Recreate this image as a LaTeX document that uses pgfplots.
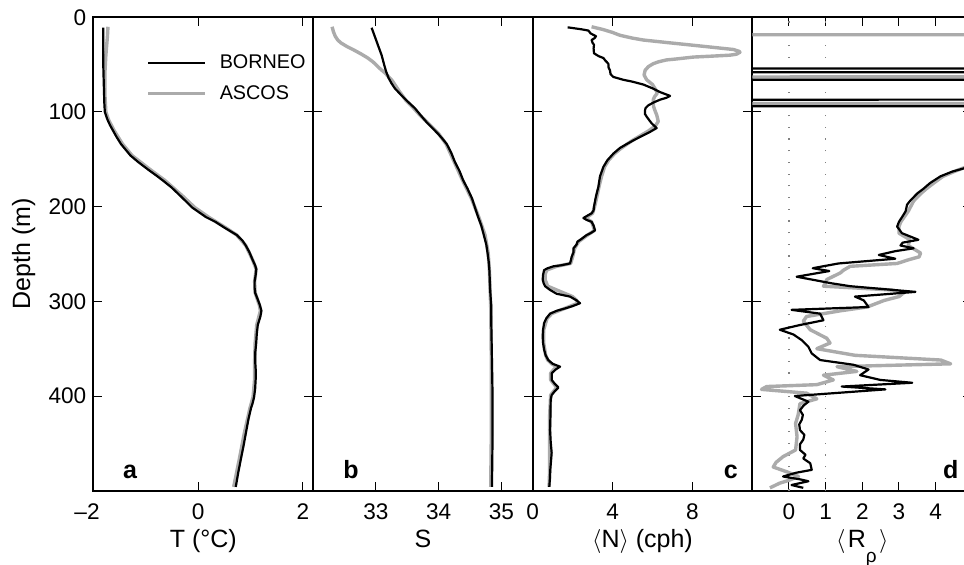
\documentclass[border=0pt]{standalone}
\usepackage{pgfplots}
\pgfplotsset{compat=1.18}
\usepackage{fontspec}
\setmainfont{Liberation Sans}
\definecolor{lgray}{rgb}{0.67,0.67,0.67}
\pgfplotsset{
  prof/.style={
    scale only axis, height=236.7pt,
    y dir=reverse, ymin=0, ymax=500, ytick={0,100,200,300,400,500},
    yticklabels={},
    tick align=inside, major tick length=4.5pt,
    axis line style={line width=0.85pt},
    tick style={line width=0.5pt, black},
    font=\fontsize{11.3}{13.6}\selectfont,
    /pgf/number format/assume math mode=true,
    xticklabel style={anchor=base, yshift=-14.65pt},
    label style={font=\fontsize{12.5}{15}\selectfont},
    xlabel style={at={(axis description cs:0.5,0)}, anchor=base, yshift=-28.4pt},
    clip=true,
  },
  bk/.style={black, line width=1.1pt, line join=round},
  gr/.style={lgray, line width=1.7pt, line join=round},
}
\begin{document}
\begin{tikzpicture}
% ---------------- panel a
\begin{axis}[prof, width=110pt, at={(0pt,0pt)}, anchor=south west,
  xmin=-2, xmax=2.2, xtick={-2,0,2}, xticklabels={\llap{--}2,0,2},
  yticklabels={0,100,200,300,400,{}},
  ylabel={Depth (m)}, ylabel style={at={(axis description cs:-0.287,0.5)}, anchor=base},
  xlabel={T (°C)},
  legend style={draw=none, fill=none, inner sep=0pt, row sep=3pt, column sep=4.5pt,
    at={(rel axis cs:0.2395,0.871)}, anchor=west, font=\fontsize{9.9}{11.8}\selectfont,
    cells={anchor=west}},
  legend image code/.code={\draw[#1] (0pt,0pt) -- (28.5pt,0pt);},
]
\addlegendimage{bk}\addlegendentry{BORNEO}
\addlegendimage{gr}\addlegendentry{ASCOS}
\addplot[gr, forget plot] coordinates {
(-1.72,10) (-1.73,20) (-1.76,40) (-1.78,60) (-1.78,80) (-1.76,100) (-1.71,108)
(-1.61,119) (-1.44,134) (-1.26,146) (-0.91,161) (-0.64,172) (-0.31,188) (-0.06,201)
(0.20,211) (0.52,222) (0.74,230) (0.91,241) (1.04,256) (1.11,266) (1.08,279)
(1.09,291) (1.17,304) (1.19,310) (1.12,325) (1.09,344) (1.08,363) (1.08,382)
(1.05,401) (0.99,413) (0.88,440) (0.79,466) (0.68,496)};
\addplot[bk, forget plot] coordinates {
(-1.81,11) (-1.81,30) (-1.81,50) (-1.80,70) (-1.79,90) (-1.78,100) (-1.73,108)
(-1.68,114) (-1.63,119) (-1.56,126) (-1.47,134) (-1.38,140) (-1.29,146) (-1.14,153)
(-0.95,161) (-0.80,167) (-0.68,172) (-0.50,180) (-0.35,188) (-0.22,195) (-0.11,201)
(0.02,206) (0.15,211) (0.33,216) (0.50,222) (0.62,226) (0.74,230) (0.85,236)
(0.91,241) (0.98,248) (1.04,256) (1.09,262) (1.11,266) (1.10,272) (1.08,279)
(1.08,286) (1.09,291) (1.14,298) (1.18,304) (1.21,310) (1.19,316) (1.14,325)
(1.12,335) (1.11,344) (1.09,355) (1.09,363) (1.10,372) (1.10,382) (1.09,392)
(1.07,401) (1.04,408) (1.01,413) (0.96,425) (0.91,440) (0.87,452) (0.82,466)
(0.77,480) (0.72,496)};
\node[font=\bfseries\fontsize{12.5}{14}\selectfont, anchor=base] at (rel axis cs:0.167,0.026) {a};
\end{axis}
% ---------------- panel b
\begin{axis}[prof, width=109.7pt, at={(110pt,0pt)}, anchor=south west,
  xmin=32, xmax=35.5, xtick={33,34,35}, xticklabels={33,34,35},
  xlabel={S},
]
\addplot[gr] coordinates {
(32.30,10) (32.32,15) (32.35,20) (32.39,24) (32.44,27) (32.54,31) (32.66,35)
(32.77,39) (32.87,43) (32.95,47) (33.00,50) (33.06,54) (33.13,58) (33.19,62)
(33.26,67) (33.31,72) (33.37,78) (33.48,88) (33.60,96) (33.71,104) (33.82,111)
(34.00,123) (34.12,134) (34.25,153) (34.38,172) (34.52,191) (34.64,211) (34.74,230)
(34.79,249) (34.81,268) (34.82,287) (34.83,306) (34.84,363) (34.84,401) (34.84,440)
(34.83,496)};
\addplot[bk] coordinates {
(32.93,11) (32.98,20) (33.04,31) (33.09,40) (33.13,50) (33.16,57) (33.20,64)
(33.25,70) (33.30,75) (33.40,82) (33.49,88) (33.62,96) (33.72,104) (33.81,111)
(33.90,117) (33.99,123) (34.07,129) (34.13,134) (34.20,143) (34.26,153) (34.33,162)
(34.39,172) (34.46,181) (34.53,191) (34.58,201) (34.63,211) (34.68,220) (34.72,230)
(34.76,240) (34.78,249) (34.80,259) (34.81,268) (34.82,287) (34.84,306) (34.84,325)
(34.85,363) (34.86,401) (34.86,440) (34.855,470) (34.85,496)};
\node[font=\bfseries\fontsize{12.5}{14}\selectfont, anchor=base] at (rel axis cs:0.172,0.026) {b};
\end{axis}
% ---------------- panel c
\begin{axis}[prof, width=109.8pt, at={(219.7pt,0pt)}, anchor=south west,
  xmin=0, xmax=11, xtick={0,4,8}, xticklabels={0,4,8},
  xlabel={$\langle$N$\rangle$ (cph)},
]
\addplot[gr] coordinates {
(2.95,10) (3.54,13) (4.00,16) (4.37,19) (5.00,22) (5.54,24) (6.88,27) (7.80,29)
(8.71,31) (9.60,33) (10.05,34) (10.35,36) (10.38,37) (10.20,39) (9.88,40) (9.00,41)
(8.05,42) (7.20,44) (6.71,45) (6.30,47) (6.04,49) (5.80,52) (5.63,56) (5.58,61)
(5.71,66) (6.00,71) (6.15,76) (6.24,80) (6.10,84) (6.04,87) (6.05,94) (6.15,100)
(6.21,103) (6.29,110) (6.13,115) (5.80,120) (5.40,125) (5.00,130) (4.45,138)
(4.10,144) (3.80,151) (3.60,158) (3.45,168) (3.32,179) (3.22,189) (3.10,200)
(3.00,207) (2.65,212) (2.95,216) (3.10,225) (2.75,230) (2.30,237) (2.10,244)
(2.00,253) (1.90,260) (1.20,263) (0.70,267) (0.62,272) (0.62,277) (0.75,284)
(1.20,288) (1.54,291) (2.00,295) (2.20,299) (2.25,302) (1.90,305) (1.30,310)
(0.95,313) (0.72,318) (0.55,330) (0.55,344) (0.65,357) (0.75,362) (0.95,366)
(1.20,369) (1.05,372) (0.90,376) (0.90,383) (1.20,391) (1.05,395) (0.90,399)
(0.85,420) (0.85,448) (0.85,478) (0.82,496)};
\addplot[bk] coordinates {
(1.75,10.6) (2.45,12.7) (2.79,14) (2.90,17) (3.17,20) (3.10,22) (2.95,24) (3.00,27)
(3.07,29) (3.05,33) (3.07,38) (3.30,41) (3.54,43) (3.65,46) (3.79,49) (3.80,53)
(3.87,56) (3.90,60) (4.04,63) (4.54,66) (5.00,68) (5.54,71) (6.00,75) (6.38,79)
(6.88,83) (6.70,85) (6.38,87) (6.05,90) (5.79,93) (5.65,96) (5.63,98) (5.62,102)
(5.71,105) (5.85,109) (5.96,112) (6.21,117) (5.88,121) (5.50,125) (5.04,130)
(4.70,134) (4.37,138) (4.04,144) (3.74,151) (3.54,158) (3.37,168) (3.29,179)
(3.17,189) (3.07,200) (3.05,204) (2.95,207) (2.70,210) (2.54,212) (2.70,214)
(2.95,216) (3.05,220) (3.12,225) (2.90,228) (2.70,230) (2.45,234) (2.24,237)
(2.20,240) (2.04,244) (2.05,248) (1.95,253) (1.92,256) (1.87,260) (1.40,262)
(1.04,263) (0.75,265) (0.57,267) (0.52,272) (0.50,277) (0.55,281) (0.62,284)
(0.87,288) (1.20,292) (1.87,295) (2.20,299) (2.37,302) (2.00,305) (1.70,307)
(1.20,310) (0.87,313) (0.68,318) (0.57,323) (0.52,330) (0.50,337) (0.52,344)
(0.57,351) (0.65,357) (0.78,362) (1.00,366) (1.37,369) (1.15,372) (0.95,376)
(0.95,383) (1.10,387) (1.29,391) (1.10,395) (0.95,399) (0.90,404) (0.89,420)
(0.87,436) (0.90,448) (0.95,460) (0.92,468) (0.88,478) (0.86,488) (0.83,496)};
\node[font=\bfseries\fontsize{12.5}{14}\selectfont, anchor=base] at (rel axis cs:0.902,0.026) {c};
\end{axis}
% ---------------- panel d
\begin{axis}[prof, width=110pt, at={(329.5pt,0pt)}, anchor=south west,
  xmin=-1, xmax=5, xtick={0,1,2,3,4}, xticklabels={0,1,2,3,4},
  xlabel={$\left\langle\vphantom{R_\rho}\right.$R\raisebox{-1.1ex}{\fontsize{9.5}{10}\selectfont ρ}$\left.\vphantom{R_\rho}\right\rangle$},
]
\draw[gray, line width=0.6pt, dash pattern=on 0.6pt off 5.25pt] (axis cs:0,500) -- (axis cs:0,0);
\draw[gray, line width=0.6pt, dash pattern=on 0.6pt off 5.25pt] (axis cs:1,500) -- (axis cs:1,0);
\addplot[gr] coordinates {
(-20,10) (-20,18.2) (20,18.6) (20,62.8) (-20,63.2) (-20,90.8) (20,91.2) (20,150)
(6,154) (4.9,157) (4.50,163) (4.20,168) (3.95,175) (3.75,181) (3.60,186) (3.40,194)
(3.25,205) (3.05,216) (3.00,221) (3.00,228) (3.30,235) (3.25,241) (3.59,249)
(3.55,253) (3.27,256) (2.95,260) (1.67,263) (1.49,267) (1.40,270) (1.03,277)
(0.99,281) (0.94,284) (2.80,288) (3.13,291) (3.00,295) (2.60,299) (2.13,306)
(1.40,310) (0.48,316) (0.39,321) (0.58,330) (1.03,339) (1.12,344) (0.76,350)
(1.80,357) (4.14,362) (4.41,366) (1.31,369) (1.85,374) (0.94,378) (1.21,383)
(0.76,388) (-0.61,390) (-0.75,393) (0.48,397) (0.76,403) (0.30,408) (0.25,420)
(0.18,429) (0.22,443) (0.18,457) (-0.16,464) (-0.35,470) (-0.43,475) (-0.06,480)
(0.26,485) (0.00,489) (-0.25,492) (-0.52,497)};
\addplot[bk] coordinates {
(-20,10) (-20,53.8) (20,54.2) (20,57.8) (-20,58.2) (-20,65.8) (20,66.2) (20,86.8)
(-20,87.2) (-20,93.8) (20,94.2) (20,150) (6,155) (4.82,159) (4.45,163) (4.13,168)
(3.85,175) (3.67,181) (3.50,186) (3.40,190) (3.30,194) (3.22,198) (3.18,205)
(3.10,210) (3.00,216) (2.95,221) (3.08,228) (3.53,235) (3.10,238) (3.04,241)
(3.40,244) (2.90,247) (2.45,251) (2.90,255) (1.35,260) (0.65,265) (1.10,268)
(0.21,274) (1.17,281) (1.67,284) (3.45,290) (1.80,295) (2.04,299) (2.17,306)
(0.07,309) (0.85,313) (0.94,320) (0.30,325) (-0.25,330) (0.12,335) (0.35,341)
(0.53,348) (0.62,355) (0.85,362) (1.76,367) (2.17,372) (1.94,378) (2.49,383)
(3.36,386) (1.44,390) (2.63,393) (0.16,400) (0.53,406) (0.40,410) (0.30,415)
(0.38,420) (0.35,425) (0.28,430) (0.30,436) (0.42,441) (0.39,446) (0.30,451)
(0.30,457) (0.45,462) (0.39,466) (0.58,471) (0.62,478) (0.20,481) (-0.16,485)
(0.30,488) (0.53,490) (0.07,494) (0.39,497)};
\node[font=\bfseries\fontsize{12.5}{14}\selectfont, anchor=base] at (rel axis cs:0.902,0.026) {d};
\end{axis}
\pgfresetboundingbox
\path[use as bounding box] (-46.65pt,-37.15pt) rectangle (435.35pt,245.35pt);
\end{tikzpicture}
\end{document}
